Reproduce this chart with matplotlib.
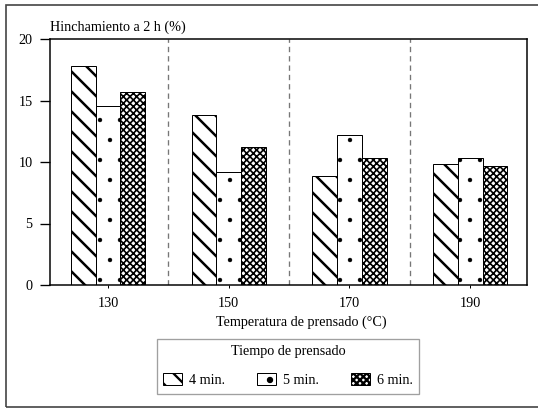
import matplotlib
matplotlib.use('Agg')
import matplotlib.pyplot as plt
import numpy as np
from matplotlib.patches import Rectangle

plt.rcParams['font.family'] = ['Liberation Serif', 'DejaVu Serif']
plt.rcParams['hatch.linewidth'] = 1.4

# datos
temperaturas = ['130', '150', '170', '190']
min4 = [17.8, 13.8, 8.85, 9.8]
min5 = [14.55, 9.2, 12.2, 10.35]
min6 = [15.7, 11.25, 10.35, 9.7]
series = [('4 min.', min4, '\\\\', 1.5), ('5 min.', min5, '.', 0.2), ('6 min.', min6, 'xxxxxx', 1.0)]

dpi = 120
fig = plt.figure(figsize=(538 / dpi, 409 / dpi), dpi=dpi)
ax = fig.add_axes([50 / 538, 1 - 285 / 409, 477 / 538, 246 / 409])

x = np.arange(len(temperaturas))
w = 0.205
handles = []
for i, (lab, vals, h, hlw) in enumerate(series):
    bars = ax.bar(x + (i - 1) * w, vals, w, facecolor='white', edgecolor='black',
                  linewidth=0.6, hatch=h, label=lab)
    for b in bars:
        if hasattr(b, 'set_hatch_linewidth'):
            b.set_hatch_linewidth(hlw)

for xs in x[:-1] + 0.5:
    ax.axvline(xs, color='#777777', ls=(0, (4, 3)), lw=0.8)

ax.set_xlim(-0.48, 3.47)
ax.set_ylim(0, 20)
ax.set_yticks([0, 5, 10, 15, 20])
ax.set_xticks(x)
ax.set_xticklabels(temperaturas)
ax.tick_params(axis='y', direction='out', length=6, width=0.8, pad=4.5, labelsize=8.5)
ax.tick_params(axis='x', direction='out', length=2, width=0.6, pad=5, labelsize=8.5)
for s in ax.spines.values():
    s.set_linewidth(0.9)

fig.text(50 / 538, 1 - 27 / 409, 'Hinchamiento a 2 h (%)', ha='left', va='center', fontsize=8.5)
fig.text(301 / 538, 1 - 322 / 409, 'Temperatura de prensado (°C)', ha='center', va='center', fontsize=8.5)

leg = fig.legend(loc='upper left', bbox_to_anchor=(157 / 538, 1 - 339 / 409, 262 / 538, 0.0),
                 mode='expand', ncol=3, title='Tiempo de prensado', fontsize=8.5,
                 title_fontsize=8.5, frameon=True, fancybox=False, handlelength=1.3,
                 handleheight=0.9, handletextpad=0.5, borderpad=0.45, labelspacing=0.3,
                 borderaxespad=0)
leg.get_frame().set_edgecolor('#888888')
leg.get_frame().set_linewidth(0.8)
leg._legend_box.sep = 9

fig.add_artist(Rectangle((6 / 538, 1 - 407 / 409), 1.0, (407 - 5) / 409,
                         transform=fig.transFigure, fill=False, edgecolor='#444444', lw=1.0))

fig.savefig('out.png', dpi=dpi)
